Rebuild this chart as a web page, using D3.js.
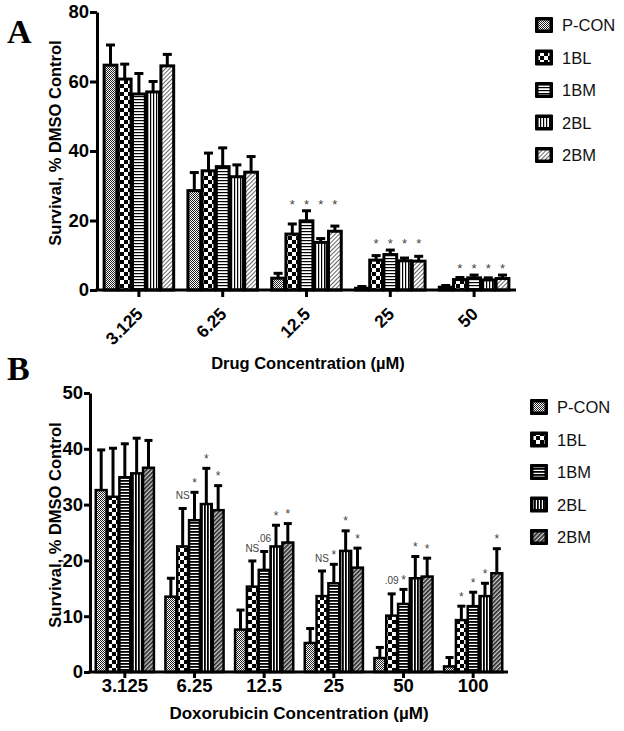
<!DOCTYPE html>
<html><head><meta charset="utf-8">
<script src="https://cdn.jsdelivr.net/npm/d3@7"></script>
<style>body{margin:0;background:#fff}svg{display:block}</style>
</head><body>
<svg id="c" width="624" height="731"></svg>
<script>
// ---------- DATA ----------
const series = ["P-CON", "1BL", "1BM", "2BL", "2BM"];

// Panel A
const categoriesA = ["3.125", "6.25", "12.5", "25", "50"];
const yTicksA = [0, 20, 40, 60, 80];
const meanA_PCON = [64.7, 28.6, 3.4, 0.5, 0.8];
const meanA_1BL  = [60.7, 34.3, 16.1, 8.6, 3.0];
const meanA_1BM  = [56.4, 35.5, 19.9, 10.2, 3.5];
const meanA_2BL  = [57.0, 32.6, 13.7, 8.4, 2.9];
const meanA_2BM  = [64.5, 33.9, 16.9, 8.3, 3.3];
const semA_PCON = [5.8, 5.2, 1.4, 0.5, 0.5];
const semA_1BL  = [4.3, 5.1, 2.9, 1.3, 0.6];
const semA_1BM  = [5.9, 5.4, 2.9, 1.3, 0.8];
const semA_2BL  = [3.0, 3.4, 1.1, 0.8, 0.6];
const semA_2BM  = [3.3, 4.5, 1.5, 1.4, 1.0];
// significance marks per category (series order)
const sigA = [
  ["", "", "", "", ""],
  ["", "", "", "", ""],
  ["", "*", "*", "*", "*"],
  ["", "*", "*", "*", "*"],
  ["", "*", "*", "*", "*"]
];

// Panel B
const categoriesB = ["3.125", "6.25", "12.5", "25", "50", "100"];
const yTicksB = [0, 10, 20, 30, 40, 50];
const meanB_PCON = [32.6, 13.5, 7.6, 5.2, 2.5, 1.0];
const meanB_1BL  = [31.4, 22.5, 15.3, 13.6, 10.1, 9.3];
const meanB_1BM  = [34.9, 27.2, 18.3, 15.9, 12.2, 11.8];
const meanB_2BL  = [35.6, 30.1, 22.5, 21.7, 16.8, 13.6];
const meanB_2BM  = [36.6, 29.0, 23.2, 18.7, 17.1, 17.7];
const semB_PCON = [7.2, 3.3, 3.5, 2.6, 1.9, 1.6];
const semB_1BL  = [8.7, 6.8, 4.6, 4.5, 3.9, 2.5];
const semB_1BM  = [6.0, 5.0, 3.3, 3.4, 2.6, 2.5];
const semB_2BL  = [6.3, 6.4, 3.8, 3.6, 3.9, 2.3];
const semB_2BM  = [4.9, 4.4, 3.4, 3.5, 3.3, 4.4];
const sigB = [
  ["", "", "", "", ""],
  ["", "NS", "*", "*", "*"],
  ["", "NS", ".06", "*", "*"],
  ["", "NS", "*", "*", "*"],
  ["", ".09", "*", "*", "*"],
  ["", "*", "*", "*", "*"]
];

// ---------- BUILD ----------
const meansA = [meanA_PCON, meanA_1BL, meanA_1BM, meanA_2BL, meanA_2BM];
const semsA  = [semA_PCON, semA_1BL, semA_1BM, semA_2BL, semA_2BM];
const meansB = [meanB_PCON, meanB_1BL, meanB_1BM, meanB_2BL, meanB_2BM];
const semsB  = [semB_PCON, semB_1BL, semB_1BM, semB_2BL, semB_2BM];

const svg = d3.select("#c");
const defs = svg.append("defs");
const SANS = "'Liberation Sans', Arial, sans-serif";
const SERIF = "'Liberation Serif', 'Times New Roman', serif";

function pat(id, w, h, bg, draw, transform) {
  const p = defs.append("pattern").attr("id", id)
    .attr("patternUnits", "userSpaceOnUse").attr("width", w).attr("height", h);
  if (transform) p.attr("patternTransform", transform);
  p.append("rect").attr("width", w).attr("height", h).attr("fill", bg);
  draw(p);
}
// Panel A patterns
pat("a0", 2, 2, "#fff", p => { p.append("rect").attr("width",1).attr("height",1).attr("fill","#222");
  p.append("rect").attr("x",1).attr("y",1).attr("width",1).attr("height",1).attr("fill","#222"); });
pat("a1", 8, 8, "#000", p => { p.append("rect").attr("width",4).attr("height",4).attr("fill","#fff");
  p.append("rect").attr("x",4).attr("y",4).attr("width",4).attr("height",4).attr("fill","#fff"); });
pat("a2", 4, 3, "#fff", p => p.append("rect").attr("width",4).attr("height",1.2).attr("fill","#000"));
pat("a3", 3, 4, "#fff", p => p.append("rect").attr("width",1.2).attr("height",4).attr("fill","#000"));
pat("a4", 3, 3, "#fff", p => p.append("rect").attr("width",1).attr("height",3).attr("fill","#666"), "rotate(45)");
// Panel B patterns
pat("b0", 2, 2, "#fff", p => { p.append("rect").attr("width",1).attr("height",1).attr("fill","#222");
  p.append("rect").attr("x",1).attr("y",1).attr("width",1).attr("height",1).attr("fill","#222"); });
pat("b1", 8, 8, "#000", p => { p.append("rect").attr("width",4).attr("height",4).attr("fill","#fff");
  p.append("rect").attr("x",4).attr("y",4).attr("width",4).attr("height",4).attr("fill","#fff"); });
pat("b2", 4, 3, "#fff", p => p.append("rect").attr("width",4).attr("height",1.8).attr("fill","#000"));
pat("b3", 3, 4, "#fff", p => p.append("rect").attr("width",1.8).attr("height",4).attr("fill","#000"));
pat("b4", 3, 3, "#ccc", p => p.append("rect").attr("width",1.6).attr("height",3).attr("fill","#222"), "rotate(45)");

function panel(cfg) {
  const g = svg.append("g");
  const y = d3.scaleLinear().domain([0, cfg.yMax]).range([cfg.y0, cfg.yTop]);
  const x0 = d3.scaleBand().domain(cfg.categories).range([cfg.x0, cfg.x1]).paddingInner(cfg.pad).paddingOuter(cfg.pad / 2);
  const x1 = d3.scaleBand().domain(series).range([0, x0.bandwidth()]).paddingInner(cfg.barGap);

  const rows = [];
  cfg.categories.forEach((c, ci) => series.forEach((s, si) => {
    rows.push({ c, s, ci, si, m: cfg.means[si][ci], e: cfg.sems[si][ci], sig: cfg.sig[ci][si] });
  }));

  // error bars (behind bars)
  const eb = g.append("g").attr("stroke", "#000").attr("stroke-width", cfg.ebW);
  rows.forEach(d => {
    const cx = x0(d.c) + x1(d.s) + x1.bandwidth() / 2;
    eb.append("line").attr("x1", cx).attr("x2", cx).attr("y1", y(d.m)).attr("y2", y(d.m + d.e));
    eb.append("line").attr("x1", cx - cfg.cap / 2).attr("x2", cx + cfg.cap / 2)
      .attr("y1", y(d.m + d.e)).attr("y2", y(d.m + d.e));
  });

  // bars
  g.append("g").selectAll("rect").data(rows).join("rect")
    .attr("x", d => x0(d.c) + x1(d.s))
    .attr("y", d => y(d.m))
    .attr("width", x1.bandwidth())
    .attr("height", d => y(0) - y(d.m))
    .attr("fill", d => `url(#${cfg.pfx}${d.si})`)
    .attr("stroke", "#000").attr("stroke-width", cfg.barW);

  // significance marks
  rows.filter(d => d.sig).forEach(d => {
    const cx = x0(d.c) + x1(d.s) + x1.bandwidth() / 2;
    let yc;
    if (cfg.groupStars) {
      const top = d3.max(rows.filter(r => r.c === d.c), r => r.m + r.e);
      yc = y(top) - cfg.starOff;
    } else {
      yc = y(d.m + d.e) - cfg.starOff;
    }
    const isStar = d.sig === "*";
    g.append("text").attr("x", cx).attr("y", yc + (isStar ? cfg.starFs * 0.62 : cfg.noteFs * 0.36))
      .attr("text-anchor", "middle").attr("font-family", SANS)
      .attr("font-size", isStar ? cfg.starFs : cfg.noteFs).attr("fill", "#444").text(d.sig);
  });

  // y axis
  const ya = g.append("g").attr("transform", `translate(${cfg.x0},0)`)
    .call(d3.axisLeft(y).tickValues(cfg.yTicks).tickSize(cfg.tick).tickSizeOuter(0).tickPadding(cfg.yPad));
  ya.select(".domain").attr("stroke-width", 3);
  ya.selectAll(".tick line").attr("stroke-width", 3);
  ya.selectAll(".tick text").attr("font-family", SANS).attr("font-weight", "bold").attr("font-size", 18.5).attr("fill", "#000");

  // x axis
  g.append("line").attr("x1", cfg.x0 - 1.5).attr("x2", cfg.x1).attr("y1", cfg.y0).attr("y2", cfg.y0)
    .attr("stroke", "#000").attr("stroke-width", 3);
  cfg.categories.forEach(c => {
    const cx = x0(c) + x0.bandwidth() / 2;
    g.append("line").attr("x1", cx).attr("x2", cx).attr("y1", cfg.y0).attr("y2", cfg.y0 + cfg.tick)
      .attr("stroke", "#000").attr("stroke-width", 3);
    const t = g.append("text").attr("font-family", SANS).attr("font-weight", "bold")
      .attr("font-size", cfg.xFs).attr("fill", "#000").text(c);
    if (cfg.rotate) {
      t.attr("text-anchor", "end").attr("transform", `translate(${cx + 5},${cfg.y0 + 25}) rotate(-45)`);
    } else {
      t.attr("text-anchor", "middle").attr("x", cx).attr("y", cfg.xLabY);
    }
  });

  // axis titles
  g.append("text").attr("transform", `translate(61,${cfg.yTitleY}) rotate(-90)`)
    .attr("text-anchor", "middle").attr("font-family", SANS).attr("font-weight", "bold")
    .attr("font-size", 16.5).text("Survival, % DMSO Control");
  g.append("text").attr("x", cfg.xTitleX).attr("y", cfg.xTitleY)
    .attr("text-anchor", "middle").attr("font-family", SANS).attr("font-weight", "bold")
    .attr("font-size", cfg.xTitleFs).text(cfg.xTitle);

  // panel letter
  g.append("text").attr("x", 7).attr("y", cfg.letterY).attr("font-family", SERIF)
    .attr("font-weight", "bold").attr("font-size", 34).text(cfg.letter);

  // legend
  series.forEach((s, i) => {
    const cy = cfg.legY + i * 32.5;
    g.append("rect").attr("x", cfg.legX).attr("y", cy - 8).attr("width", 18).attr("height", 16)
      .attr("fill", "#000").attr("rx", 1);
    g.append("rect").attr("x", cfg.legX + 3.5).attr("y", cy - 4.5).attr("width", 11).attr("height", 9)
      .attr("fill", `url(#${cfg.pfx}${i})`);
    g.append("text").attr("x", cfg.legX + 27).attr("y", cy + 6).attr("font-family", SANS)
      .attr("font-size", 16.5).attr("fill", "#111").text(s);
  });
}

panel({
  categories: categoriesA, means: meansA, sems: semsA, sig: sigA, yTicks: yTicksA, yMax: 80,
  x0: 97, x1: 516, y0: 290, yTop: 12, pad: 0.17, barGap: 0.1, pfx: "a",
  barW: 3, ebW: 3, cap: 9, tick: 7, yPad: 1, groupStars: true, starOff: 10, starFs: 13, noteFs: 10,
  rotate: true, xFs: 17.5, xTitle: "Drug Concentration (\u00b5M)", xTitleX: 308, xTitleY: 369, xTitleFs: 16.5,
  yTitleY: 143, letter: "A", letterY: 43, legX: 535, legY: 25
});

panel({
  categories: categoriesB, means: meansB, sems: semsB, sig: sigB, yTicks: yTicksB, yMax: 50,
  x0: 90, x1: 508, y0: 672, yTop: 393, pad: 0.165, barGap: 0.08, pfx: "b",
  barW: 2.5, ebW: 3, cap: 8, tick: 6, yPad: 1, groupStars: false, starOff: 13, starFs: 12, noteFs: 10,
  rotate: false, xFs: 18.5, xLabY: 692, xTitle: "Doxorubicin Concentration (\u00b5M)", xTitleX: 299, xTitleY: 719, xTitleFs: 17,
  yTitleY: 525, letter: "B", letterY: 380, legX: 530, legY: 407
});
</script>
</body></html>
